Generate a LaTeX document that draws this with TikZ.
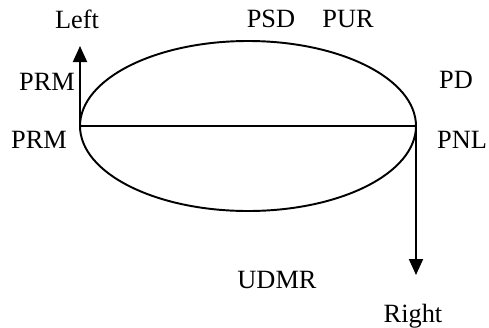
\documentclass[tikz,border=0pt]{standalone}
\usepackage{fontspec}
\setmainfont{Liberation Serif}
\usetikzlibrary{arrows.meta}

\begin{document}
\begin{tikzpicture}[line width=1.1pt,>={Triangle[length=0.32cm,width=0.28cm]},
  lbl/.style={anchor=base,inner sep=0pt,font=\fontsize{15}{17}\selectfont}]
\useasboundingbox (0,0) rectangle (9.78,6.54);
\coordinate (c) at (4.96,4.02);
\coordinate (w) at (1.60,4.02);
\coordinate (e) at (8.32,4.02);
\coordinate (up) at (1.60,5.62);
\coordinate (down) at (8.32,1.04);
\draw (c) ellipse [x radius=3.36, y radius=1.70];
\draw (w) -- (e);
\draw[->] (w) -- (up);
\draw[->] (e) -- (down);
\node[lbl] (left) at (1.54,5.98) {Left};
\node[lbl] (prm1) at (0.94,4.74) {PRM};
\node[lbl] (prm2) at (0.78,3.58) {PRM};
\node[lbl] (psd) at (5.42,6.00) {PSD};
\node[lbl] (pur) at (6.96,6.00) {PUR};
\node[lbl] (pd) at (9.12,4.78) {PD};
\node[lbl] (pnl) at (9.24,3.58) {PNL};
\node[lbl] (udmr) at (5.54,0.78) {UDMR};
\node[lbl] (right) at (8.26,0.10) {Right};
\end{tikzpicture}
\end{document}
